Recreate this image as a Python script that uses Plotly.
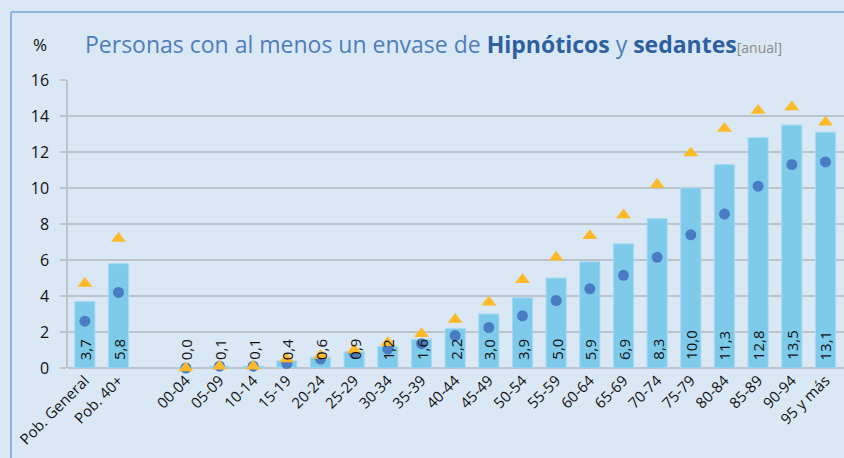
import plotly.graph_objects as go

# --- data ---------------------------------------------------------------
categories = ["Pob. General", "Pob. 40+", " ",
              "00-04", "05-09", "10-14", "15-19", "20-24", "25-29", "30-34",
              "35-39", "40-44", "45-49", "50-54", "55-59", "60-64", "65-69",
              "70-74", "75-79", "80-84", "85-89", "90-94", "95 y más"]
total = [3.7, 5.8, None,
         0.0, 0.1, 0.1, 0.4, 0.6, 0.9, 1.2, 1.6, 2.2, 3.0, 3.9, 5.0,
         5.9, 6.9, 8.3, 10.0, 11.3, 12.8, 13.5, 13.1]
hombres = [2.6, 4.2, None,
           0.0, 0.1, 0.1, 0.25, 0.5, 0.8, 1.05, 1.35, 1.8, 2.25, 2.9, 3.75,
           4.4, 5.15, 6.15, 7.4, 8.55, 10.1, 11.3, 11.45]
mujeres = [4.7, 7.2, None,
           0.0, 0.1, 0.1, 0.5, 0.7, 1.0, 1.4, 1.9, 2.7, 3.65, 4.9, 6.15,
           7.35, 8.5, 10.2, 11.95, 13.3, 14.3, 14.5, 13.65]
y_ticks = [0, 2, 4, 6, 8, 10, 12, 14, 16]

BG = "#dae8f5"
GRID = "#bcc3cb"
FONT = "Open Sans"

fig = go.Figure()

fig.add_trace(go.Bar(
    x=categories, y=total, width=0.6,
    marker=dict(color="#7ecaeb", line=dict(color="#a8daf1", width=1)),
    hoverinfo="skip", showlegend=False,
))
fig.add_trace(go.Scatter(
    x=categories, y=hombres, mode="markers", cliponaxis=False,
    marker=dict(symbol="circle", size=11, color="#4a7cc3"),
    showlegend=False,
))
fig.add_trace(go.Scatter(
    x=categories, y=mujeres, mode="markers", cliponaxis=False,
    marker=dict(symbol="triangle-up", size=13, color="#fdb927"),
    showlegend=False,
))

# rotated value labels at the base of each bar
for cat, v in zip(categories, total):
    if v is None:
        continue
    fig.add_annotation(x=cat, y=0, text=f"{v:.1f}".replace(".", ","),
                       textangle=-90, showarrow=False, yanchor="bottom",
                       yshift=6, font=dict(family=FONT, size=15, color="#111"))

# title and unit
fig.add_annotation(
    xref="paper", yref="paper", x=0.019, y=1.125, xanchor="left",
    yanchor="middle", showarrow=False,
    text=("Personas con al menos un envase de <b><span style='color:#2e5f9f'>"
          "Hipnóticos</span></b> y <b><span style='color:#2e5f9f'>sedantes</span></b>"
          "<span style='color:#8a8a8a;font-size:14px'>[anual]</span>"),
    font=dict(family=FONT, size=23, color="#4f7dba"),
)
fig.add_annotation(xref="paper", yref="paper", x=-0.025, y=1.125,
                   xanchor="right", yanchor="middle", showarrow=False,
                   text="%", font=dict(family=FONT, size=17, color="#111"))

# outer frame lines (left and top)
fig.add_shape(type="line", xref="paper", yref="paper", x0=-0.0735, x1=-0.0735,
              y0=-0.32, y1=1.236, line=dict(color="#8fb3de", width=2))
fig.add_shape(type="line", xref="paper", yref="paper", x0=-0.0735, x1=1.0,
              y0=1.236, y1=1.236, line=dict(color="#8fb3de", width=2))

fig.update_layout(
    width=844, height=458,
    margin=dict(l=68, r=0, t=80, b=90),
    paper_bgcolor=BG, plot_bgcolor=BG,
    font=dict(family=FONT, color="#111"),
    xaxis=dict(type="category", categoryorder="array", categoryarray=categories,
               range=[-0.5, 22.55], tickangle=-45, showgrid=False,
               ticks="", tickfont=dict(size=15), showline=False),
    yaxis=dict(range=[0, 16], tickvals=y_ticks, showgrid=True,
               gridcolor=GRID, gridwidth=1.5, zeroline=True,
               zerolinecolor=GRID, zerolinewidth=1.5,
               showline=True, linecolor=GRID, linewidth=1.5,
               ticks="outside", ticklen=6, tickcolor=GRID, tickwidth=1.5,
               ticklabelstandoff=8, tickfont=dict(size=16)),
)

fig.write_html("out.html", config={"displayModeBar": False},
               post_script="document.body.style.margin='0';"
                           "document.body.style.overflow='hidden';")
